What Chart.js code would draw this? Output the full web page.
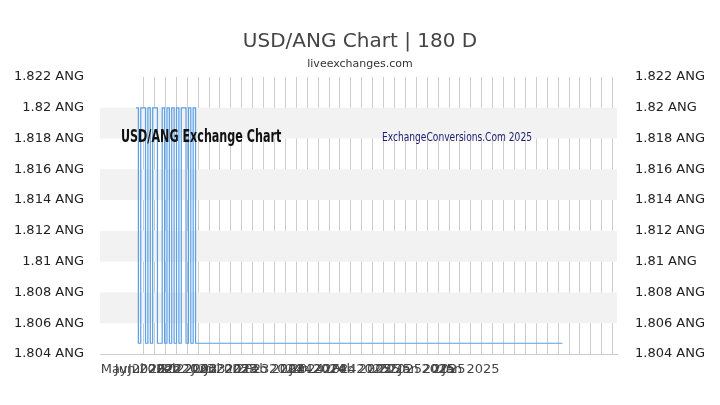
<!DOCTYPE html>
<html><head><meta charset="utf-8">
<script src="https://cdn.jsdelivr.net/npm/chart.js@4"></script>
<style>html,body{margin:0;padding:0;background:#fff}#c{display:block}</style>
</head><body><canvas id="c" width="720" height="405"></canvas>
<script>
const title = "USD/ANG Chart | 180 D";
const subtitle = "liveexchanges.com";
const yTicks = [1.804,1.806,1.808,1.810,1.812,1.814,1.816,1.818,1.820,1.822];
const rates = [
1.820,1.8047,1.820,1.820,1.8047,1.820,1.8047,1.820,1.820,1.8047,
1.8047,1.820,1.8047,1.820,1.8047,1.820,1.8047,1.820,1.8047,1.820,
1.820,1.8047,1.820,1.8047,1.820,1.8047];
const flatCount = 154;
const flatRate = 1.8047;
const xLabels = {3:"May 2022",4:"Jun 2022",5:"Jul 2022",6:"2022",7:"2022",8:"Feb 2023",9:"2023",10:"2023",11:"Jun 2023",12:"Jul 2023",13:"2023",14:"2023",16:"Feb 2024",17:"2024",18:"2024",19:"2024",20:"Jun 2024",21:"2024",22:"2024",24:"Feb 2025",25:"2025",26:"2025",27:"2025",28:"2025",30:"Jan 2025",31:"2025",32:"2025",34:"Jan 2025"};
const allRates = rates.concat(Array(flatCount).fill(flatRate));
const startX = 3.3, endX = 42.4;
const pts = allRates.map((v,i)=>({x: startX + i*(endX-startX)/(allRates.length-1), y:v}));

const bg = {id:'bg',beforeDatasetsDraw(ch){const {ctx,chartArea:a,scales:{y}}=ch;ctx.save();ctx.fillStyle='#f2f2f2';
 for(let v=1.806;v<1.821;v+=0.004){const t=y.getPixelForValue(v+0.002),b=y.getPixelForValue(v);ctx.fillRect(a.left,t,a.right-a.left,b-t);}
 ctx.restore();},
 afterDraw(ch){const {ctx}=ch;ctx.save();ctx.textAlign='center';ctx.fillStyle='#444';ctx.font='20px "DejaVu Sans"';ctx.fillText(title,360,47);
 ctx.font='11px "DejaVu Sans"';ctx.fillStyle='#333';ctx.fillText(subtitle,360,67);
 ctx.textAlign='left';ctx.fillStyle='#111';ctx.save();ctx.translate(121,142);ctx.scale(0.62,1);ctx.font='bold 18px "DejaVu Sans"';ctx.fillText('USD/ANG Exchange Chart',0,0);ctx.restore();
 ctx.fillStyle='#1a1a6e';ctx.save();ctx.translate(382,141);ctx.scale(0.7,1);ctx.font='13px "DejaVu Sans"';ctx.fillText('ExchangeConversions.Com 2025',0,0);ctx.restore();
 ctx.restore();}};

new Chart(document.getElementById('c'),{type:'line',
data:{datasets:[{data:pts,borderColor:'#5aa0e6',borderWidth:1.2,pointRadius:0,fill:false,tension:0,stepped:true}]},
options:{responsive:false,animation:false,layout:{padding:{top:77,left:0,right:0,bottom:0}},
plugins:{legend:{display:false},tooltip:{enabled:false}},
scales:{
x:{type:'linear',min:0,max:47.4,grid:{color:c=>(c.tick&&c.tick.value<4)?'rgba(0,0,0,0)':'#cccccc',drawTicks:false},border:{color:'#ccc'},
 afterBuildTicks(s){s.ticks=[];for(let i=3;i<=47;i++)s.ticks.push({value:i});},
 afterFit(s){s.height=51;},
 ticks:{autoSkip:false,maxRotation:0,padding:8,color:'#444',font:{size:13,family:'DejaVu Sans'},callback:v=>xLabels[v]||''}},
y:{position:'left',min:1.804,max:1.822,grid:{display:false},border:{display:false},
 afterBuildTicks(s){s.ticks=yTicks.map(v=>({value:v}));},afterFit(s){s.width=100;},
 ticks:{color:'#222',padding:8,font:{size:13,family:'DejaVu Sans'},callback:v=>(+v.toFixed(3))+' ANG'}},
y2:{position:'right',min:1.804,max:1.822,grid:{display:false},border:{display:false},
 afterBuildTicks(s){s.ticks=yTicks.map(v=>({value:v}));},afterFit(s){s.width=103;},
 ticks:{color:'#222',padding:10,font:{size:13,family:'DejaVu Sans'},callback:v=>(+v.toFixed(3))+' ANG'}}}},
plugins:[bg]});
</script></body></html>
